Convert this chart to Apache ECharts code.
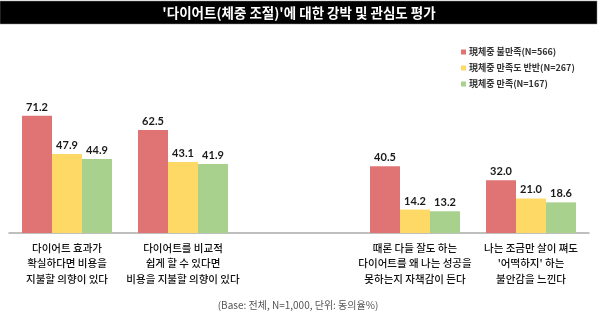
<!DOCTYPE html>
<html>
<head>
<meta charset="utf-8">
<script src="https://cdn.jsdelivr.net/npm/echarts@6/dist/echarts.min.js"></script>
<style>
  html, body { margin: 0; padding: 0; background: #fff; }
  #chart { width: 600px; height: 335px; }
</style>
</head>
<body>
<div id="chart"></div>
<script>
// Survey items (the blank slot keeps the two item pairs apart)
const categories = [
  '다이어트 효과가\n확실하다면 비용을\n지불할 의향이 있다',
  '다이어트를 비교적\n쉽게 할 수 있다면\n비용을 지불할 의향이 있다',
  '',
  '때론 다들 잘도 하는\n다이어트를 왜 나는 성공을\n못하는지 자책감이 든다',
  '나는 조금만 살이 쪄도\n\'어떡하지\' 하는\n불안감을 느낀다'
];
const seriesNames = ['現체중 불만족(N=566)', '現체중 만족도 반반(N=267)', '現체중 만족(N=167)'];
const unsatisfied = [71.2, 62.5, '-', 40.5, 32.0];
const halfHalf    = [47.9, 43.1, '-', 14.2, 21.0];
const satisfied   = [44.9, 41.9, '-', 13.2, 18.6];
const colors = ['#E07474', '#FFD966', '#A9D18E'];

const chart = echarts.init(document.getElementById('chart'), null, { renderer: 'canvas' });

const valueLabel = {
  show: true,
  position: 'top',
  distance: 3,
  fontFamily: 'Lato',
  fontWeight: 'bold',
  fontSize: 11,
  color: '#1a1a1a',
  formatter: p => Number(p.value).toFixed(1)
};

function makeSeries(name, data, color) {
  return {
    name: name,
    type: 'bar',
    data: data,
    barWidth: 30,
    barGap: '0%',
    itemStyle: { color: color },
    label: valueLabel,
    emphasis: { disabled: true }
  };
}

chart.setOption({
  animation: false,
  backgroundColor: '#fff',
  textStyle: { fontFamily: 'Noto Sans CJK KR' },
  grid: { left: 9, right: 11, top: 68.3, bottom: 102, containLabel: false },
  legend: {
    orient: 'vertical',
    left: 456,
    top: 41,
    itemWidth: 5,
    itemHeight: 5,
    itemGap: 4,
    icon: 'rect',
    data: seriesNames,
    textStyle: {
      fontFamily: 'Noto Sans CJK KR',
      fontSize: 9,
      fontWeight: 'bold',
      color: '#333',
      lineHeight: 12,
      padding: [0, 0, 0, -2]
    }
  },
  xAxis: {
    type: 'category',
    data: categories,
    axisLine: { lineStyle: { color: '#ababab', width: 1.5 } },
    axisTick: { show: false },
    axisLabel: {
      interval: 0,
      margin: 7,
      fontFamily: 'Noto Sans CJK KR',
      fontSize: 10.5,
      fontWeight: 500,
      lineHeight: 15.5,
      color: '#111'
    }
  },
  yAxis: {
    type: 'value',
    min: 0,
    max: 100,
    show: false,
    splitLine: { show: false }
  },
  series: [
    makeSeries(seriesNames[0], unsatisfied, colors[0]),
    makeSeries(seriesNames[1], halfHalf, colors[1]),
    makeSeries(seriesNames[2], satisfied, colors[2])
  ],
  graphic: [
    {
      type: 'rect',
      shape: { x: 0, y: 1, width: 597, height: 23 },
      style: { fill: '#000', stroke: '#888', lineWidth: 0.5 }
    },
    {
      type: 'text',
      x: 299,
      y: 12.5,
      style: {
        text: '\'다이어트(체중 조절)\'에 대한 강박 및 관심도 평가',
        fill: '#fff',
        fontFamily: 'Noto Sans CJK KR',
        fontSize: 13.5,
        fontWeight: 'bold',
        align: 'center',
        verticalAlign: 'middle'
      }
    },
    {
      type: 'text',
      x: 298,
      y: 305,
      style: {
        text: '(Base: 전체, N=1,000, 단위: 동의율%)',
        fill: '#555',
        fontFamily: 'Noto Sans CJK KR',
        fontSize: 10,
        align: 'center',
        verticalAlign: 'middle'
      }
    }
  ]
});
</script>
</body>
</html>
